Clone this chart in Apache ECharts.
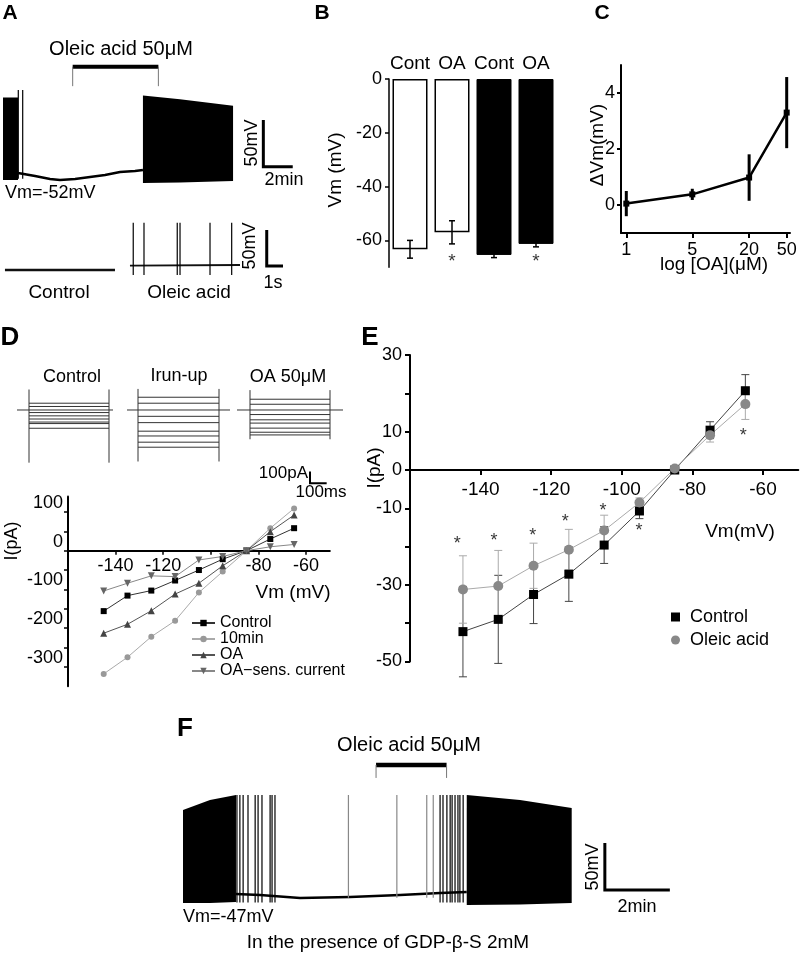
<!DOCTYPE html>
<html><head><meta charset="utf-8">
<script src="https://cdn.jsdelivr.net/npm/echarts@6/dist/echarts.min.js"></script>
<style>html,body{margin:0;padding:0;background:#fff}#c{width:800px;height:965px}</style>
</head><body><div id="c"></div>
<script>
// ---------- DATA ----------
// Panel A upper trace (time in min, Vm in mV)
const aBurst1 = [[0, 29, -59.5], [1.02, 29, -59.5]];        // [t, top, bottom]
const aSpikes = [1.04, 1.34];
const aSpikePeak = 37, aSpikeBottom = -58;
const aBase = [[1.02,-52],[2.18,-55.2],[3.2,-58.4],[3.88,-59.5],[4.9,-58.4],[5.92,-56.3],[6.94,-54.1],[7.96,-50.9],[8.98,-49.8],[9.52,-48.8]];
const aBurst2 = [[9.52, 31, -62.7], [12.04, 27, -62], [15.65, 20, -60.6]];
const aDrug = [4.74, 10.57];
// Panel A lower traces (time in s)
const alCtrl = [[0.12,-52],[6.87,-52]];
const alOA = [[7.79,-46],[14.54,-45]];
const alSpikes = [7.99, 8.65, 10.69, 10.86, 12.7, 14.03];
// Panel B
const bCats = ['Cont','OA','Cont','OA'];
const bVals = [-63.3, -57, -65.4, -61.3];
const bErr = [3.3, 4.3, 1.0, 1.1];
const bStars = [[1, -66.6], [3, -66.6]];
// Panel C
const cConc = [1, 5, 20, 50];
const cMean = [0.05, 0.38, 0.98, 3.3];
const cErr = [0.45, 0.2, 0.83, 1.27];
// Panel D (I-V, mV / pA)
const dVolt = [-145,-135,-125,-115,-105,-95,-85,-75,-65];
const dCtrl = [-156,-116,-103,-77,-50,-22,0,30,58];
const d10min = [-318,-275,-222,-181,-108,-54,0,58,109];
const dOA = [-213,-190,-155,-112,-84,-39,0,49,92];
const dSens = [-104,-84,-65,-67,-24,-15,0,10,16];
// Panel D current traces: [start, step on, step off, end] in ms, transient extents in pA
const dTctrl = [102,174,654,678], dTirun = [762,828,1314,1380], dToa = [1422,1500,1980,2058];
const dTrans = [[175,-450],[180,-440],[170,-250]];
// Panel E
const eVolt = [-145,-135,-125,-115,-105,-95,-85,-75,-65];
const eCtrl = [-42.2,-39,-32.5,-27.2,-19.6,-10.7,0,10.4,20.7];
const eCtrlErr = [11.8,11.5,7.6,7.1,4.8,2,0.5,2.2,4.2];
const eOA = [-31.2,-30.3,-25,-20.8,-15.8,-8.5,0.4,9.1,17.2];
const eOAErr = [8.8,9.3,5.9,5.3,4,1.2,0.5,1.8,4];
const eStars = [[-146.6,-18.3],[-136.2,-17.4],[-125.2,-16.1],[-116,-12.6],[-105.3,-9.6],[-95.1,-14.8],[-65.6,10]];
// Panel F trace (time in min, Vm in mV)
const fBurst1 = [[0.4, 43.4, -55.5], [1.23, 54.1, -55.5], [2.03, 59.4, -54.4]];
const fSpikesDark = [2.06,2.15,2.25,2.4,2.62,2.71,2.83,3.08,3.14,3.23,8.31,8.4,8.52,8.62,8.68,8.77,8.86,8.92,9.02];
const fSpikesGray = [5.49, 6.98, 7.9, 8.1];
const fBase = [[2.03,-46],[2.77,-47],[4.0,-50.2],[5.54,-49.1],[7.08,-47],[8.31,-44.9],[9.13,-43.8]];
const fBurst2 = [[9.13, 59.4, -57.6], [10.77, 54, -57], [12.36, 45.6, -55.5]];
const fDrug = [6.34, 8.51];

// ---------- HELPERS ----------
const FONT = 'Liberation Sans, Arial, Helvetica, sans-serif';
const chart = echarts.init(document.getElementById('c'), null, {renderer:'canvas'});

function poly(gi, env, color) {
  return {type:'custom', xAxisIndex:gi, yAxisIndex:gi, silent:true, clip:false,
    data:[[env[0][0], env[0][1]]],
    renderItem:(p, api) => {
      const pts = env.map(e => api.coord([e[0], e[1]]));
      for (let i = env.length - 1; i >= 0; i--) pts.push(api.coord([env[i][0], env[i][2]]));
      return {type:'polygon', shape:{points:pts}, style:{fill:color}};
    }};
}
function lines(gi, segs, color, width, z) {
  return {type:'lines', coordinateSystem:'cartesian2d', xAxisIndex:gi, yAxisIndex:gi, polyline:true,
    silent:true, z:z||2, lineStyle:{color:color, width:width, opacity:1, curveness:0},
    data: segs.map(c => ({coords:c}))};
}
function spikes(times, peak, bottom) { return times.map(t => [[t, peak], [t, bottom]]); }
function errBars(gi, pts, color, width, cap, z) {
  return {type:'custom', xAxisIndex:gi, yAxisIndex:gi, silent:true, z:z||3, data:pts, encode:{x:0, y:1},
    renderItem:(p, api) => {
      const x = api.value(0), m = api.value(1), e = api.value(2);
      const a = api.coord([x, m + e]), b = api.coord([x, m - e]);
      const st = {stroke:color, lineWidth:width};
      const ch = [{type:'line', shape:{x1:a[0], y1:a[1], x2:b[0], y2:b[1]}, style:st}];
      if (cap) {
        ch.push({type:'line', shape:{x1:a[0]-cap, y1:a[1], x2:a[0]+cap, y2:a[1]}, style:st});
        ch.push({type:'line', shape:{x1:b[0]-cap, y1:b[1], x2:b[0]+cap, y2:b[1]}, style:st});
      }
      return {type:'group', children:ch};
    }};
}
function stars(gi, pts, size) {
  return {type:'scatter', xAxisIndex:gi, yAxisIndex:gi, silent:true, z:5, data:pts, symbolSize:1,
    itemStyle:{color:'rgba(0,0,0,0)'},
    label:{show:true, position:'inside', formatter:'*', fontSize:size, color:'#000', fontFamily:FONT, offset:[0, 4]}};
}
function traceSegs(T, levels, tr) {
  const s = [[[T[0],0],[T[1],0]], [[T[2],0],[T[3],0]], [[T[1],tr[0]],[T[1],tr[1]]], [[T[2],tr[0]],[T[2],tr[1]]]];
  levels.forEach(l => s.push([[T[1], l], [T[2], l]]));
  return s;
}
function txt(text, x, y, size, o) {
  o = o || {};
  return {type:'text', x:x, y:y, rotation:o.rot || 0, silent:true, z:100,
    style:{text:text, fontSize:size, fontFamily:FONT, fontWeight:o.bold ? 'bold' : 'normal', fill:'#000',
      align:o.align || 'center', verticalAlign:o.va || 'middle'}};
}
const R = Math.PI / 2;
const hx = (gi, min, max) => ({gridIndex:gi, type:'value', min:min, max:max, show:false});
const axLine = w => ({show:true, onZero:false, lineStyle:{color:'#000', width:w}});
const lab = (vals, size, margin, extra) => Object.assign({show:true, customValues:vals, color:'#000', fontSize:size, margin:margin, fontFamily:FONT}, extra || {});
const tick = (vals, len, w) => ({show:true, customValues:vals, length:len, lineStyle:{color:'#000', width:w}});

// D I-V and E grids: y range and pixel extents (x axis drawn at I = 0)
const dIV = {top:496.4, height:189.9, min:-350, max:140};
const eIV = {top:355.1, height:306.4, min:-50, max:30};
const zeroOffset = g => -(g.height * (0 - g.min) / (g.max - g.min));

const grids = [
  {left:3, top:40.4, width:294, height:158.8},
  {left:3, top:215.3, width:293.4, height:64.8},
  {left:389, top:79, width:168, height:188.3},
  {left:621, top:65, width:169, height:168},
  {left:0, top:370.2, width:360, height:114.7},
  {left:68, top:dIV.top, width:261.8, height:dIV.height},
  {left:410, top:eIV.top, width:388.3, height:eIV.height},
  {left:170, top:733.3, width:520, height:197.4}
].map(g => Object.assign({outerBoundsMode:'none', containLabel:false, show:false}, g));

const cTickVals = cConc.map(c => Math.log10(c));

const xAxis = [
  hx(0, 0, 20), hx(1, 0, 18),
  {gridIndex:2, type:'category', data:bCats, position:'top', axisLine:{show:false}, axisTick:{show:false},
    axisLabel:{color:'#000', fontSize:19, margin:6, interval:0, fontFamily:FONT}, splitLine:{show:false}},
  {gridIndex:3, type:'value', min:-0.0561, max:1.734, axisLine:{show:true, onZero:false, lineStyle:{color:'#000', width:2}},
    axisTick:tick(cTickVals, 5, 2), axisLabel:lab(cTickVals, 18, 8, {formatter: v => String(Math.round(Math.pow(10, v)))}), splitLine:{show:false}},
  hx(4, 0, 2160),
  {gridIndex:5, type:'value', min:-160, max:-50, position:'bottom', offset:zeroOffset(dIV), axisLine:axLine(2),
    axisTick:tick([-140,-120,-100,-80,-60], 4, 1.5),
    axisLabel:lab([-140,-120,-80,-60], 18, 6), splitLine:{show:false}},
  {gridIndex:6, type:'value', min:-160, max:-50, position:'bottom', offset:zeroOffset(eIV), axisLine:axLine(2),
    axisTick:tick([-140,-120,-100,-80,-60], 5, 2),
    axisLabel:lab([-140,-120,-100,-80,-60], 19, 10), splitLine:{show:false}},
  hx(7, 0, 16)
];
const yAxis = [
  hx(0, -80, 90), hx(1, -66, 24),
  {gridIndex:2, type:'value', min:-70, max:0, axisLine:{show:true, onZero:false, lineStyle:{color:'#000', width:1.5}},
    axisTick:tick([0,-20,-40,-60], 4, 1.5), axisLabel:lab([0,-20,-40,-60], 18, 7), splitLine:{show:false}},
  {gridIndex:3, type:'value', min:-1, max:5, axisLine:{show:true, onZero:false, lineStyle:{color:'#000', width:2}},
    axisTick:tick([0,2,4], 4, 2), axisLabel:lab([0,2,4], 18, 6), splitLine:{show:false}},
  hx(4, -640, 340),
  {gridIndex:5, type:'value', min:dIV.min, max:dIV.max, axisLine:axLine(2),
    axisTick:tick([100,50,0,-50,-100,-150,-200,-250,-300], 4, 1.5),
    axisLabel:lab([100,0,-100,-200,-300], 18, 5, {verticalAlign:'bottom'}), splitLine:{show:false}},
  {gridIndex:6, type:'value', min:eIV.min, max:eIV.max, axisLine:axLine(2),
    axisTick:tick([30,20,10,0,-10,-20,-30,-40,-50], 5, 2),
    axisLabel:lab([30,10,0,-10,-30,-50], 18, 8), splitLine:{show:false}},
  hx(7, -85, 125)
];

const zip = (xs, ys) => xs.map((x, i) => [x, ys[i]]);
const zip3 = (xs, ys, es) => xs.map((x, i) => [x, ys[i], es[i]]);

const series = [
  // ---- D I-V (first so legend picks these) ----
  {type:'line', name:'Control', xAxisIndex:5, yAxisIndex:5, data:zip(dVolt, dCtrl), symbol:'rect', symbolSize:6,
    itemStyle:{color:'#000'}, lineStyle:{color:'#333', width:1}, z:4},
  {type:'line', name:'10min', xAxisIndex:5, yAxisIndex:5, data:zip(dVolt, d10min), symbol:'circle', symbolSize:6,
    itemStyle:{color:'#999'}, lineStyle:{color:'#aaa', width:1}, z:4},
  {type:'line', name:'OA', xAxisIndex:5, yAxisIndex:5, data:zip(dVolt, dOA), symbol:'triangle', symbolSize:7,
    itemStyle:{color:'#444'}, lineStyle:{color:'#555', width:1}, z:4},
  {type:'line', name:'OA\u2212sens. current', xAxisIndex:5, yAxisIndex:5, data:zip(dVolt, dSens), symbol:'path://M0,0 L10,0 L5,9 Z', symbolSize:7,
    itemStyle:{color:'#666'}, lineStyle:{color:'#888', width:1}, z:4},
  // ---- A upper ----
  poly(0, aBurst1, '#000'), poly(0, aBurst2, '#000'),
  lines(0, [aBase], '#000', 2.5),
  lines(0, spikes(aSpikes, aSpikePeak, aSpikeBottom), '#000', 1.2),
  lines(0, [[[aDrug[0], 61.8], [aDrug[1], 61.8]]], '#000', 4),
  lines(0, [[[aDrug[0], 61.8], [aDrug[0], 41]], [[aDrug[1], 61.8], [aDrug[1], 41]]], '#777', 1),
  lines(0, [[[17.71, 4.7], [17.71, -45.3], [19.71, -45.3]]], '#000', 3),
  // ---- A lower ----
  lines(1, [alCtrl], '#111', 2.5),
  lines(1, [alOA], '#111', 1.8),
  lines(1, spikes(alSpikes, 13.7, -59), '#000', 1.2),
  lines(1, [[[16.18, 3.6], [16.18, -46.4], [17.18, -46.4]]], '#000', 3),
  // ---- B ----
  {type:'bar', xAxisIndex:2, yAxisIndex:2, barWidth:35, silent:true, z:2,
    data: bVals.map((v, i) => ({value:v, itemStyle: i < 2 ? {color:'#fff', borderColor:'#000', borderWidth:1.5} : {color:'#000', borderColor:'#000', borderWidth:1}}))},
  errBars(2, zip3(bCats.map((c, i) => i), bVals, bErr), '#000', 1.5, 3),
  stars(2, bStars, 19),
  // ---- C ----
  errBars(3, zip3(cTickVals, cMean, cErr), '#000', 3, 0),
  {type:'line', xAxisIndex:3, yAxisIndex:3, data:zip(cTickVals, cMean), symbol:'rect', symbolSize:6,
    itemStyle:{color:'#000'}, lineStyle:{color:'#000', width:2.5}, z:4, silent:true},
  // ---- D traces ----
  lines(4, traceSegs(dTctrl, dCtrl, dTrans[0]), '#333', 1),
  lines(4, traceSegs(dTirun, d10min, dTrans[1]), '#333', 1),
  lines(4, traceSegs(dToa, dOA, dTrans[2]), '#333', 1),
  lines(4, [[[1860, -526.5], [1860, -626.5], [1960, -626.5]]], '#000', 2),
  // ---- E ----
  errBars(6, zip3(eVolt, eCtrl, eCtrlErr), '#444', 1, 4, 2),
  errBars(6, zip3(eVolt, eOA, eOAErr), '#aaa', 1, 4, 2),
  {type:'line', name:'Control', xAxisIndex:6, yAxisIndex:6, data:zip(eVolt, eCtrl), symbol:'rect', symbolSize:9,
    itemStyle:{color:'#000'}, lineStyle:{color:'#444', width:1}, z:4},
  {type:'line', name:'Oleic acid', xAxisIndex:6, yAxisIndex:6, data:zip(eVolt, eOA), symbol:'circle', symbolSize:10,
    itemStyle:{color:'#888'}, lineStyle:{color:'#aaa', width:1}, z:4},
  stars(6, eStars, 18),
  // ---- F ----
  poly(7, fBurst1, '#000'), poly(7, fBurst2, '#000'),
  lines(7, [fBase], '#000', 2.5),
  lines(7, spikes(fSpikesGray, 59.4, -50), '#888', 1.2),
  lines(7, spikes(fSpikesDark, 59.4, -55), '#000', 1.2),
  lines(7, [[[fDrug[0], 91.3], [fDrug[1], 91.3]]], '#000', 4.5),
  lines(7, [[[fDrug[0], 91.3], [fDrug[0], 77.5]], [[fDrug[1], 91.3], [fDrug[1], 77.5]]], '#777', 1),
  lines(7, [[[13.38, 8.3], [13.38, -41.7], [15.38, -41.7]]], '#000', 3)
];

const graphic = [
  txt('A', 10, 13, 21, {bold:true}), txt('B', 322, 13, 21, {bold:true}), txt('C', 602, 13, 21, {bold:true}),
  txt('D', 10, 338, 26, {bold:true}), txt('E', 370, 338, 26, {bold:true}), txt('F', 185, 729, 26, {bold:true}),
  txt('Oleic acid 50\u03bcM', 121, 49, 20),
  txt('50mV', 252, 143, 18, {rot:R}), txt('2min', 284, 180, 18), txt('Vm=-52mV', 5, 193, 18, {align:'left'}),
  txt('50mV', 250, 246, 18, {rot:R}), txt('1s', 273, 283, 18),
  txt('Control', 59, 293, 19), txt('Oleic acid', 189, 293, 19),
  txt('Vm (mV)', 336, 170, 19, {rot:R}),
  txt('\u0394Vm(mV)', 598, 145, 19, {rot:R}), txt('log [OA](\u03bcM)', 714, 265, 19),
  txt('Control', 72, 377, 18), txt('Irun-up', 179, 376, 18), txt('OA 50\u03bcM', 288, 377, 18),
  txt('100pA', 308, 473, 17, {align:'right'}), txt('100ms', 321, 492, 17),
  txt('I(pA)', 12, 541, 18, {rot:R}), txt('Vm (mV)', 293, 593, 19),
  txt('I(pA)', 375, 468, 19, {rot:R}), txt('Vm(mV)', 740, 532, 19),
  txt('Oleic acid 50\u03bcM', 409, 745, 20),
  txt('50mV', 593, 867, 18, {rot:R}), txt('2min', 637, 907, 18), txt('Vm=-47mV', 183, 917, 18, {align:'left'}),
  txt('In the presence of GDP-\u03b2-S 2mM', 388, 943, 19)
];

chart.setOption({
  animation:false,
  backgroundColor:'#fff',
  textStyle:{fontFamily:FONT},
  grid:grids, xAxis:xAxis, yAxis:yAxis, series:series, graphic:graphic,
  legend:[
    {orient:'vertical', left:186, top:610, itemWidth:23, itemHeight:8, itemGap:0, selectedMode:false,
      textStyle:{color:'#000', fontSize:16, fontFamily:FONT},
      data:['Control','10min','OA','OA\u2212sens. current']},
    {orient:'vertical', left:666, top:603, itemWidth:9, itemHeight:9, itemGap:5, selectedMode:false,
      textStyle:{color:'#000', fontSize:18, fontFamily:FONT, padding:[0,0,0,5]},
      data:[{name:'Control', icon:'rect'}, {name:'Oleic acid', icon:'circle'}]}
  ]
});
</script></body></html>
